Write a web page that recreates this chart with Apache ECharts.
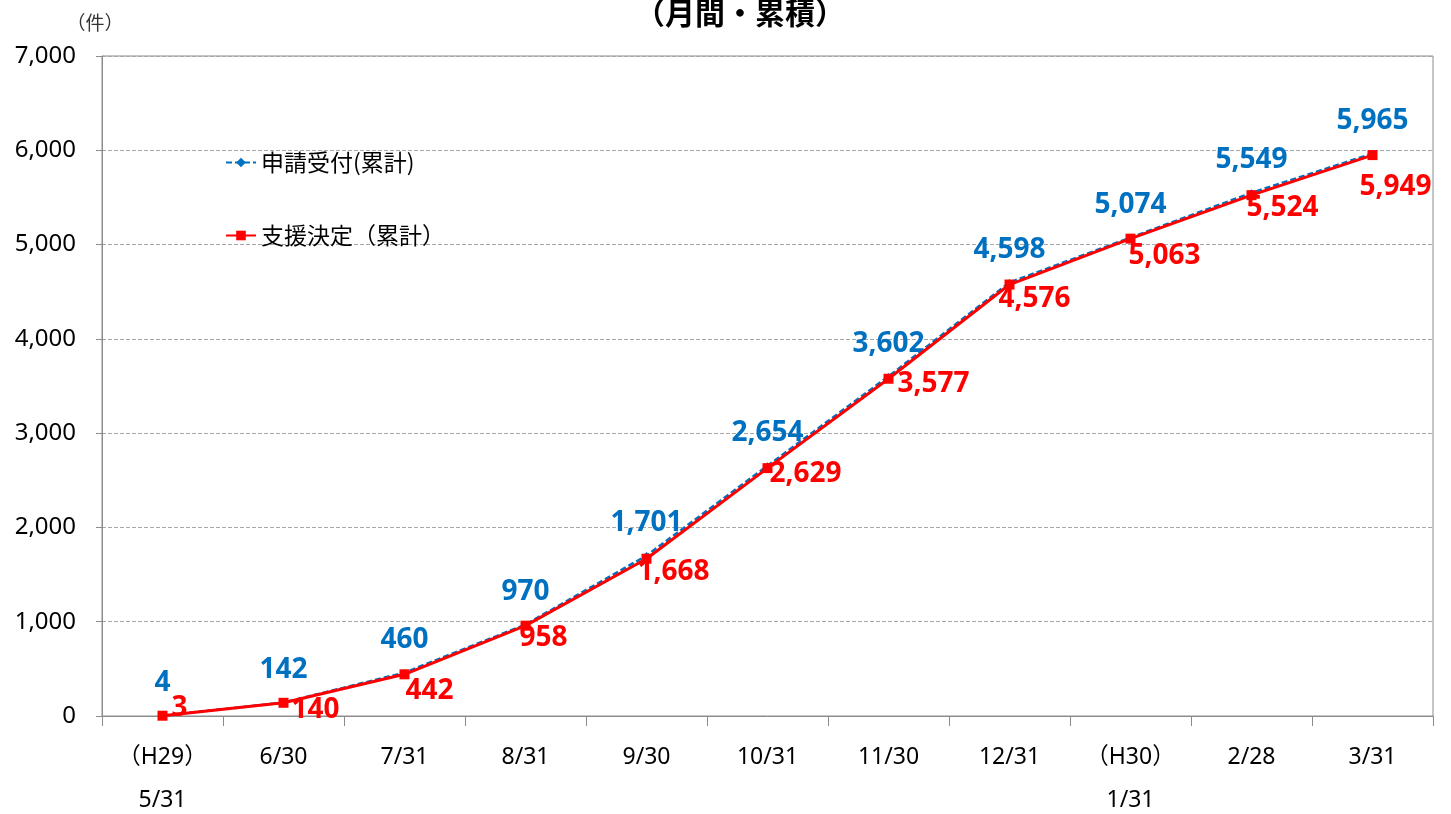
<!DOCTYPE html>
<html>
<head>
<meta charset="utf-8">
<script src="https://cdn.jsdelivr.net/npm/echarts@6/dist/echarts.min.js"></script>
<style>
  html, body { margin: 0; padding: 0; background: #fff; }
  #chart { width: 1451px; height: 814px; }
</style>
</head>
<body>
<div id="chart"></div>
<script>
// Month-end dates (fiscal H29 → H30)
const categories = ['（H29）\n5/31', '6/30', '7/31', '8/31', '9/30', '10/31', '11/30', '12/31', '（H30）\n1/31', '2/28', '3/31'];
// Cumulative applications received
const applications = [4, 142, 460, 970, 1701, 2654, 3602, 4598, 5074, 5549, 5965];
// Cumulative support decisions
const decisions = [3, 140, 442, 958, 1668, 2629, 3577, 4576, 5063, 5524, 5949];
// Value axis range
const yMin = 0, yMax = 7000, yStep = 1000;

const BLUE = '#0070C0';
const RED = '#FF0000';
const AXIS = '#8c8c8c';
const NUM_FONT = '"Noto Sans", "Noto Sans CJK JP", sans-serif';
const JP_FONT = '"Noto Sans CJK JP", sans-serif';

// label placement for the decision series (shift from each point)
const decisionLabelShift = [[17, -8], [32, 7], [25, 17], [18, 12], [27, 13], [38, 6], [45, 5], [25, 14], [34, 17], [31, 13], [23, 32]];

const fmt = v => v.toLocaleString('en-US');

const chart = echarts.init(document.getElementById('chart'), null, { renderer: 'canvas' });

chart.setOption({
  animation: false,
  backgroundColor: '#fff',
  title: {
    text: '（月間・累積）',
    left: 735,
    top: -7,
    textAlign: 'center',
    textStyle: { fontFamily: JP_FONT, fontSize: 30, fontWeight: 'bold', color: '#000' }
  },
  legend: {
    orient: 'vertical',
    left: 220,
    top: 146,
    itemGap: 50,
    itemWidth: 30,
    itemHeight: 12,
    textStyle: { fontFamily: JP_FONT, fontSize: 23, color: '#000' },
    data: ['申請受付(累計)', '支援決定（累計）']
  },
  grid: {
    left: 102,
    right: 18,
    top: 56,
    bottom: 98,
    outerBoundsMode: 'none',
    show: true,
    borderColor: AXIS,
    borderWidth: 1
  },
  xAxis: {
    type: 'category',
    data: categories,
    boundaryGap: true,
    axisLine: { lineStyle: { color: AXIS, width: 1 } },
    axisTick: { show: true, length: 10, lineStyle: { color: AXIS } },
    axisLabel: {
      margin: 20,
      fontFamily: NUM_FONT,
      fontSize: 23,
      lineHeight: 43,
      color: '#000',
      interval: 0
    }
  },
  yAxis: {
    type: 'value',
    name: '（件）',
    nameLocation: 'end',
    nameGap: 24,
    nameTextStyle: { fontFamily: JP_FONT, fontSize: 19, color: '#333', align: 'center', padding: [0, 14, 0, 0] },
    min: yMin,
    max: yMax,
    interval: yStep,
    axisLine: { show: true, lineStyle: { color: AXIS } },
    axisTick: { show: true, length: 6, lineStyle: { color: AXIS } },
    axisLabel: {
      margin: 26,
      fontFamily: NUM_FONT,
      fontSize: 24,
      color: '#000',
      formatter: v => fmt(v)
    },
    splitLine: { show: true, lineStyle: { color: '#a6a6a6', type: 'dashed', width: 1 } }
  },
  series: [
    {
      name: '申請受付(累計)',
      type: 'line',
      data: applications,
      color: BLUE,
      symbol: 'diamond',
      symbolSize: 7,
      z: 2,
      lineStyle: { color: BLUE, width: 2.5, type: [6, 3] },
      itemStyle: { color: BLUE },
      label: {
        show: true,
        position: 'top',
        distance: 15,
        fontFamily: NUM_FONT,
        fontSize: 28,
        fontWeight: 'bold',
        color: BLUE,
        formatter: p => fmt(p.value)
      }
    },
    {
      name: '支援決定（累計）',
      type: 'line',
      data: decisions.map((v, i) => ({
        value: v,
        label: { offset: decisionLabelShift[i] }
      })),
      color: RED,
      symbol: 'rect',
      symbolSize: 10,
      z: 3,
      lineStyle: { color: RED, width: 3 },
      itemStyle: { color: RED },
      label: {
        show: true,
        position: 'inside',
        align: 'center',
        verticalAlign: 'middle',
        fontFamily: NUM_FONT,
        fontSize: 28,
        fontWeight: 'bold',
        color: RED,
        formatter: p => fmt(p.value)
      }
    }
  ]
});
</script>
</body>
</html>
